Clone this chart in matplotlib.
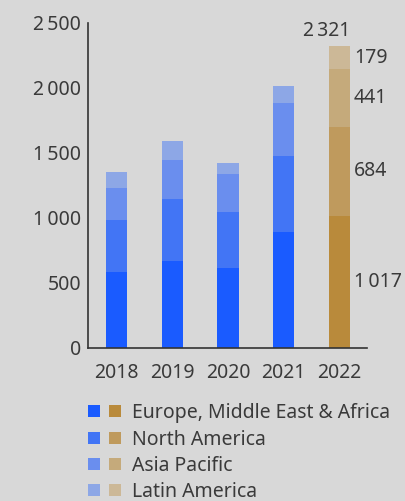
import matplotlib.pyplot as plt
from matplotlib.lines import Line2D
from matplotlib.legend_handler import HandlerTuple

plt.rcParams['font.family'] = ['Noto Sans', 'DejaVu Sans']

years = ["2018", "2019", "2020", "2021", "2022"]
regions = ["Europe, Middle East & Africa", "North America", "Asia Pacific", "Latin America"]
emea = [585, 667, 613, 890, 1017]
north_america = [397, 481, 430, 590, 684]
asia_pacific = [250, 301, 291, 407, 441]
latin_america = [125, 146, 85, 130, 179]
total_2022 = "2\u2009321"
seg_labels_2022 = ["1\u2009017", "684", "441", "179"]
y_ticks = [0, 500, 1000, 1500, 2000, 2500]
y_tick_labels = ["0", "500", "1\u2009000", "1\u2009500", "2\u2009000", "2\u2009500"]

blues = ["#1a5bff", "#4275f5", "#6a8eee", "#8da7e6"]
golds = ["#b98a3b", "#bf9a5d", "#c5aa7b", "#ccb897"]
bg = "#d8d8d8"
txt = "#3a3a3a"

series = [emea, north_america, asia_pacific, latin_america]

fig = plt.figure(figsize=(4.06, 5.01), dpi=100, facecolor=bg)
ax = fig.add_axes([0.2167, 0.3054, 0.687, 0.649])
ax.set_facecolor(bg)

x = list(range(len(years)))
bottom = [0] * len(years)
last = len(years) - 1
for i, vals in enumerate(series):
    colors = [blues[i]] * last + [golds[i]]
    ax.bar(x, vals, width=0.377, bottom=bottom, color=colors, linewidth=0)
    # labels for the last (highlighted) year
    mid = bottom[last] + vals[last] / 2
    ax.text(last + 0.26, mid, seg_labels_2022[i], ha="left", va="center",
            fontsize=14, color=txt)
    bottom = [b + v for b, v in zip(bottom, vals)]

ax.text(last + 0.19, bottom[last] + 40, total_2022, ha="right", va="bottom",
        fontsize=14, color=txt)

ax.set_xlim(-0.51, 4.49)
ax.set_ylim(0, 2500)
ax.set_xticks(x)
ax.set_xticklabels(years)
ax.set_yticks(y_ticks)
ax.set_yticklabels(y_tick_labels)
ax.tick_params(length=0, labelsize=14, colors=txt)
ax.tick_params(axis="y", pad=5)
ax.tick_params(axis="x", pad=10.5)
for side in ["top", "right"]:
    ax.spines[side].set_visible(False)
for side in ["left", "bottom"]:
    ax.spines[side].set_color("#333333")
    ax.spines[side].set_linewidth(1.2)

handles = []
for b, g in zip(blues, golds):
    h1 = Line2D([], [], marker="s", linestyle="none", markersize=9,
                markerfacecolor=b, markeredgewidth=0)
    h2 = Line2D([], [], marker="s", linestyle="none", markersize=9,
                markerfacecolor=g, markeredgewidth=0)
    handles.append((h1, h2))

leg = fig.legend(handles, regions, handler_map={tuple: HandlerTuple(ndivide=None, pad=0)},
                 loc="upper left", bbox_to_anchor=(0.206, 0.195), frameon=False,
                 fontsize=14, handlelength=2.16, handletextpad=0.35,
                 labelspacing=0.32, borderaxespad=0, borderpad=0)
for t in leg.get_texts():
    t.set_color(txt)

fig.savefig("out.png", dpi=100, facecolor=bg)
